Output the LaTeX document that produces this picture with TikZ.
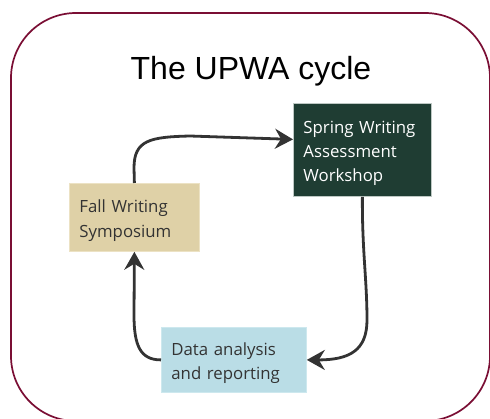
\documentclass[tikz,border=0pt]{standalone}
\usepackage{fontspec}
\setmainfont{Open Sans}
\newfontfamily\titlefont{Liberation Sans}
\usetikzlibrary{arrows.meta}
\definecolor{frameline}{RGB}{122,14,52}
\definecolor{fallfill}{RGB}{223,209,167}
\definecolor{fallline}{RGB}{236,226,196}
\definecolor{springfill}{RGB}{31,61,51}
\definecolor{springline}{RGB}{190,200,196}
\definecolor{datafill}{RGB}{186,221,230}
\definecolor{dataline}{RGB}{205,232,238}
\definecolor{inktext}{RGB}{51,51,51}
\definecolor{flow}{RGB}{51,51,51}
\tikzset{
  stagebox/.style={anchor=north west, draw, line width=0.8pt, inner xsep=10pt,
    inner ysep=0pt, align=left, text=inktext, text height=19pt,
    font=\fontsize{16.8}{24.3}\selectfont},
  flowline/.style={draw=flow, line width=2.8pt,
    -{Stealth[length=18pt,width=20pt,inset=6pt]}},
}
\begin{document}
\begin{tikzpicture}[x=1pt,y=-1pt]
\useasboundingbox (0,0) rectangle (490,419);
\clip (0,0) rectangle (490,419);
% outer frame
\draw[frameline, line width=1.7pt, rounded corners=65pt] (11,13) rectangle (490,421);
% title
\node[font=\titlefont\fontsize{32}{36}\selectfont, anchor=base] (title) at (251,80) {The UPWA cycle};
% stages
\node[stagebox, fill=fallfill, draw=fallline, minimum width=130pt, minimum height=68pt,
  text width=110pt] (fall) at (69,183) {Fall Writing\\Symposium};
\node[stagebox, fill=springfill, draw=springline, text=white, minimum width=138pt,
  minimum height=93pt, text width=118pt] (spring) at (293,103) {Spring Writing\\Assessment\\Workshop};
\node[stagebox, fill=datafill, draw=dataline, minimum width=145pt, minimum height=65pt,
  text width=125pt] (data) at (161,327) {Data analysis\\and reporting};
% cycle connectors
\draw[flowline] (fall.north) -- (134,168) .. controls (134,140) and (150,137) .. (190,136)
  -- ([yshift=10.5pt]spring.west);
\draw[flowline] (spring.south) .. controls (362,250) and (367,280) .. (367,320)
  .. controls (367,350) and (350,360) .. (data.east);
\draw[flowline] (data.west) .. controls (140,360) and (134,345) .. (134,315) -- (fall.south);
\end{tikzpicture}
\end{document}
